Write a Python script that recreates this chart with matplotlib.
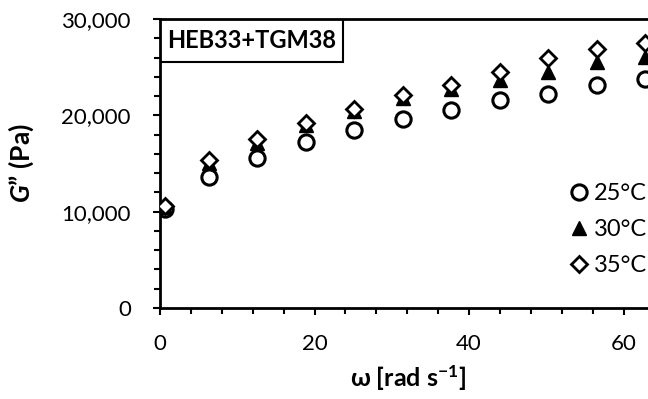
import matplotlib
matplotlib.use("Agg")
import matplotlib.pyplot as plt
import matplotlib.patches as patches
from matplotlib.ticker import MultipleLocator, StrMethodFormatter

# angular frequency (rad/s)
omega = [0.63, 6.28, 12.57, 18.85, 25.13, 31.42, 37.70, 43.98, 50.27, 56.55, 62.83]
# G'' (Pa) at each temperature
g_25 = [10300, 13600, 15600, 17200, 18500, 19600, 20600, 21600, 22200, 23200, 23800]
g_30 = [10500, 15100, 17100, 19000, 20400, 21800, 22700, 23700, 24500, 25500, 26100]
g_35 = [10600, 15400, 17500, 19200, 20700, 22100, 23100, 24500, 25900, 26900, 27500]
labels = ["25°C", "30°C", "35°C"]
sample = "HEB33+TGM38"

plt.rcParams['font.family'] = ['Lato', 'DejaVu Sans']
plt.rcParams['mathtext.fontset'] = 'custom'
plt.rcParams['mathtext.rm'] = 'Lato:bold'
plt.rcParams['mathtext.it'] = 'Lato:bold:italic'

fig = plt.figure(figsize=(6.48, 3.99), dpi=100)
# axes runs off the right edge like the original crop
ax = fig.add_axes([160 / 648, 91 / 399, 618 / 648, 289 / 399])

ax.plot(omega, g_25, 'o', ms=11, mfc='white', mec='black', mew=2.2, label=labels[0], zorder=3)
ax.plot(omega, g_30, '^', ms=10, mfc='black', mec='black', mew=1, label=labels[1], zorder=4)
ax.plot(omega, g_35, 'D', ms=8, mfc='white', mec='black', mew=2, label=labels[2], zorder=5)

ax.set_xlim(0, 80)
ax.set_ylim(0, 30000)
ax.xaxis.set_major_locator(MultipleLocator(20))
ax.xaxis.set_minor_locator(MultipleLocator(4))
ax.yaxis.set_major_locator(MultipleLocator(10000))
ax.yaxis.set_minor_locator(MultipleLocator(2000))
ax.yaxis.set_major_formatter(StrMethodFormatter('{x:,.0f}'))

for s in ax.spines.values():
    s.set_linewidth(2)
ax.tick_params(which='both', direction='out', width=1.5, top=False, right=False)
ax.tick_params(which='major', length=5, labelsize=16)
ax.tick_params(axis='x', which='major', pad=14)
ax.tick_params(axis='y', which='major', pad=16)
ax.tick_params(which='minor', length=4)

ax.set_xlabel("ω [rad s$^{\\mathregular{-1}}$]", fontsize=18, fontweight='bold')
ax.set_ylabel("$G$” (Pa)", fontsize=19, fontweight='bold')
ax.xaxis.set_label_coords(0.401, -0.19)
ax.yaxis.set_label_coords(-0.2, 0.5)

# sample name box in the top-left corner
box = patches.Rectangle((0, 0.851), 0.296, 0.149, transform=ax.transAxes,
                        fill=False, edgecolor='black', linewidth=1.5, zorder=6)
ax.add_patch(box)
ax.text(0.148, 0.925, sample, transform=ax.transAxes, ha='center', va='center',
        fontsize=17, fontweight='bold', zorder=7)

ax.legend(loc='upper left', bbox_to_anchor=(567 / 648, 1 - 183 / 399),
          bbox_transform=fig.transFigure, frameon=False, fontsize=17,
          handlelength=1.0, handletextpad=0.15, labelspacing=0.64,
          borderpad=0, borderaxespad=0, numpoints=1)

fig.savefig("out.png", dpi=100)
